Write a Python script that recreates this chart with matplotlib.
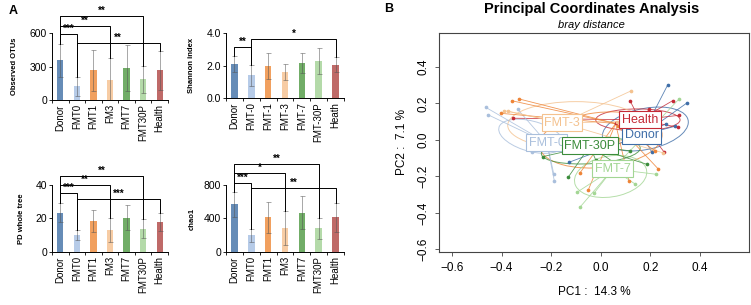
import numpy as np
import matplotlib
matplotlib.use('Agg')
import matplotlib.pyplot as plt
from matplotlib.patches import Ellipse

plt.rcParams['font.family'] = ['Liberation Sans', 'DejaVu Sans']

# ---- panel A data ----
groups_a = ['Donor', 'FMT0', 'FMT1', 'FM3', 'FMT7', 'FMT30P', 'Health']
groups_shannon = ['Donor', 'FMT-0', 'FMT-1', 'FMT-3', 'FMT-7', 'FMT-30P', 'Heath']
bar_colors = ['#5580b0', '#aec6e6', '#f0964e', '#f7c79a', '#62a456', '#acd6a0', '#b85a57']

otu_mean = [355, 125, 265, 175, 285, 185, 265]
otu_err = [150, 85, 185, 200, 205, 120, 175]
shannon_mean = [2.1, 1.4, 2.0, 1.6, 2.15, 2.3, 2.05]
shannon_err = [0.5, 0.65, 0.8, 0.5, 0.6, 0.8, 0.45]
pd_mean = [23.5, 10, 18.5, 13, 20.5, 14, 18]
pd_err = [5.5, 3, 6.5, 7, 7.5, 5.5, 5.5]
chao_mean = [570, 200, 415, 285, 470, 285, 415]
chao_err = [150, 80, 185, 200, 200, 125, 175]

# significance: (from, to, bracket height, stars)
otu_sig = [(0, 1, 590, '***'), (0, 3, 663, '**'), (0, 5, 752, '**'), (1, 6, 510, '**')]
shannon_sig = [(0, 1, 3.15, '**'), (1, 6, 3.63, '*')]
pd_sig = [(0, 1, 35.2, '***'), (0, 3, 40, '**'), (0, 5, 45.4, '**'), (1, 6, 31.6, '***')]
chao_sig = [(0, 1, 824, '***'), (0, 3, 943, '*'), (0, 5, 1051, '**'), (1, 6, 764, '**')]

# ---- panel B data ----
pc_groups = ['Donor', 'Health', 'FMT-0', 'FMT-1', 'FMT-3', 'FMT-7', 'FMT-30P']
pc_colors = ['#3f6ea8', '#c42a36', '#a9bfdc', '#ee8437', '#f4c28f', '#a3d694', '#3b8c3b']
pc_points = {
    'Donor': [(0.270, 0.301), (0.346, 0.201), (0.263, 0.088), (0.30, 0.075), (0.205, -0.064),
              (0.23, 0.05), (-0.127, -0.122), (0.185, 0.13)],
    'Health': [(0.118, 0.215), (0.196, 0.168), (0.290, 0.215), (0.315, 0.135), (0.061, 0.095),
               (0.256, -0.067), (0.31, 0.07), (-0.355, 0.119), (0.21, 0.13)],
    'FMT-0': [(-0.464, 0.179), (-0.456, 0.139), (-0.335, 0.168), (-0.279, -0.064),
              (-0.189, -0.188), (-0.187, -0.225), (-0.25, -0.02)],
    'FMT-1': [(-0.359, 0.215), (-0.330, 0.225), (-0.404, 0.146), (-0.085, -0.183),
              (-0.050, -0.274), (0.232, -0.159), (0.114, -0.225), (0.22, -0.06), (0.07, 0.075)],
    'FMT-3': [(-0.390, 0.161), (-0.375, 0.158), (0.124, 0.270), (0.065, 0.10), (0.25, -0.07)],
    'FMT-7': [(-0.096, -0.287), (-0.027, -0.292), (-0.084, -0.369), (0.138, -0.241),
              (0.223, -0.188), (0.315, 0.223)],
    'FMT-30P': [(-0.232, -0.091), (-0.131, -0.204), (0.185, -0.133), (-0.02, -0.11),
                (0.12, -0.06), (0.05, -0.12)],
}
pc_centroids = {'Donor': (0.166, 0.027), 'Health': (0.158, 0.11), 'FMT-0': (-0.217, -0.016),
                'FMT-1': (0.06, 0.09), 'FMT-3': (-0.156, 0.093), 'FMT-7': (0.049, -0.159),
                'FMT-30P': (-0.044, -0.033)}
# ellipse: centre x, centre y, width, height, angle
pc_ellipses = {'Donor': (0.18, 0.06, 0.36, 0.22, 20), 'Health': (0.15, 0.11, 0.34, 0.12, 0),
               'FMT-0': (-0.28, 0.02, 0.28, 0.16, -25), 'FMT-1': (0.0, 0.0, 0.5, 0.3, 10),
               'FMT-3': (-0.10, 0.08, 0.55, 0.26, 0), 'FMT-7': (0.04, -0.20, 0.30, 0.22, 20),
               'FMT-30P': (-0.04, -0.06, 0.40, 0.14, 5)}
labelled = ['FMT-3', 'FMT-0', 'FMT-7', 'FMT-30P', 'Health', 'Donor']

fig = plt.figure(figsize=(7.51, 3.05), dpi=100)


def bar_panel(rect, names, means, errs, sig, ylim, yticks, yticklabels, ylabel, labx):
    ax = fig.add_axes(rect)
    x = np.arange(len(names))
    ax.bar(x, means, width=0.38, color=bar_colors, alpha=0.9, zorder=2)
    ax.errorbar(x, means, yerr=errs, fmt='none', ecolor='#555555', elinewidth=0.6,
                capsize=1.8, capthick=0.6, alpha=0.6, zorder=3)
    ax.set_xlim(-0.5, 6.5)
    ax.set_ylim(*ylim)
    ax.set_xticks(x)
    ax.set_xticklabels(names, rotation=90, fontsize=7)
    ax.set_xticks(np.arange(-0.5, 7, 1), minor=True)
    ax.tick_params(axis='x', which='major', length=0, pad=3)
    ax.tick_params(axis='x', which='minor', length=2.5, width=0.6)
    ax.set_yticks(yticks)
    ax.set_yticklabels(yticklabels, fontsize=7.5)
    ax.tick_params(axis='y', length=2, width=0.6, pad=1.5)
    ax.spines['top'].set_visible(False)
    ax.spines['right'].set_visible(False)
    for s in ['left', 'bottom']:
        ax.spines[s].set_linewidth(0.7)
    ax.set_ylabel(ylabel, fontsize=5.5, fontweight='bold')
    ax.yaxis.set_label_coords(labx, 0.5)
    for i, j, h, st in sig:
        ti = means[i] + errs[i]
        tj = means[j] + errs[j]
        ax.plot([i, i, j, j], [ti, h, h, tj], color='black', lw=0.7, clip_on=False, zorder=4)
        ax.text((i + j) / 2, h, st, ha='center', va='bottom', fontsize=7,
                fontweight='bold', clip_on=False)
    return ax


bar_panel([0.0692, 0.672, 0.1545, 0.2197], groups_a, otu_mean, otu_err, otu_sig,
          (0, 600), [0, 300, 600], ['0', '300', '600'], 'Observed OTUs', -0.29)
bar_panel([0.301, 0.6787, 0.157, 0.213], groups_shannon, shannon_mean, shannon_err, shannon_sig,
          (0, 4), [0, 2, 4], ['0.0', '2.0', '4.0'], 'Shannon index', -0.26)
bar_panel([0.0692, 0.1738, 0.1545, 0.2197], groups_a, pd_mean, pd_err, pd_sig,
          (0, 40), [0, 20, 40], ['0', '20', '40'], 'PD whole tree', -0.23)
bar_panel([0.301, 0.1738, 0.157, 0.2197], groups_a, chao_mean, chao_err, chao_sig,
          (0, 800), [0, 400, 800], ['0', '400', '800'], 'chao1', -0.26)

fig.text(0.012, 0.965, 'A', fontsize=9, fontweight='bold', va='center')
fig.text(0.512, 0.972, 'B', fontsize=9, fontweight='bold', va='center')

# ---- PCoA ----
ax = fig.add_axes([0.5846, 0.1738, 0.4134, 0.718])
for g, c in zip(pc_groups, pc_colors):
    cx, cy, w, h, ang = pc_ellipses[g]
    ax.add_patch(Ellipse((cx, cy), w, h, angle=ang, fill=False, edgecolor=c, lw=0.7,
                         alpha=0.8, zorder=1))
for g, c in zip(pc_groups, pc_colors):
    pts = np.array(pc_points[g])
    mx, my = pc_centroids[g]
    for px, py in pts:
        ax.plot([mx, px], [my, py], color=c, lw=0.6, alpha=0.85, zorder=2)
    ax.scatter(pts[:, 0], pts[:, 1], s=7, color=c, zorder=3, linewidths=0)
for g, c in zip(pc_groups, pc_colors):
    if g in labelled:
        mx, my = pc_centroids[g]
        ax.text(mx, my, g, ha='center', va='center', fontsize=9, color=c, zorder=5,
                bbox=dict(boxstyle='square,pad=0.2', facecolor='white', edgecolor=c, lw=0.8))

ax.set_xlim(-0.652, 0.60)
ax.set_ylim(-0.614, 0.586)
ticks = [-0.6, -0.4, -0.2, 0.0, 0.2, 0.4]
tick_labels = ['\u22120.6', '\u22120.4', '\u22120.2', '0.0', '0.2', '0.4']
ax.set_xticks(ticks)
ax.set_xticklabels(tick_labels, fontsize=8.5)
ax.set_yticks(ticks)
ax.set_yticklabels(tick_labels, fontsize=8.5, rotation=90, va='center')
ax.tick_params(length=3, width=0.6, color='#444444', pad=4)
for s in ax.spines.values():
    s.set_linewidth(0.8)
    s.set_color('#444444')
ax.set_xlabel('PC1 :  14.3 %', fontsize=8.5, labelpad=9)
ax.set_ylabel('PC2 :  7.1 %', fontsize=8.5, labelpad=7)
fig.text(0.788, 0.97, 'Principal Coordinates Analysis', fontsize=10.5, fontweight='bold',
         ha='center', va='center')
fig.text(0.788, 0.918, 'bray distance', fontsize=8, style='italic', ha='center', va='center')

fig.savefig('out.png', dpi=100)
